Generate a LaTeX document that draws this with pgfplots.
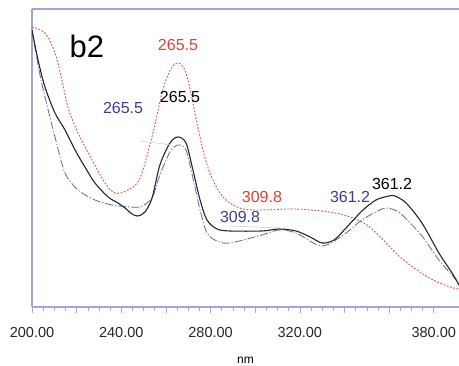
\documentclass[border=0pt]{standalone}
\usepackage{fontspec}
\setmainfont{Liberation Sans}
\usepackage{pgfplots}
\pgfplotsset{compat=1.18}
\definecolor{axisc}{HTML}{A3A3D6}
\definecolor{redc}{HTML}{E0402F}
\definecolor{redl}{HTML}{E25A40}
\definecolor{bluec}{HTML}{3A3F96}
\definecolor{bluel}{HTML}{6E72B4}
\begin{document}
\begin{tikzpicture}
\begin{axis}[
  scale only axis, width=427pt, height=298pt,
  xmin=200, xmax=391.3, ymin=0, ymax=298,
  axis x line*=bottom, axis y line*=left,
  axis line style={axisc, line width=1.2pt, -},
  ytick=\empty,
  xtick={200,220,...,380},
  xticklabels={200.00,,240.00,,280.00,,320.00,,,380.00},
  minor x tick num=3,
  tick align=outside,
  major tick length=6pt, minor tick length=4pt,
  every tick/.style={axisc, line width=0.6pt},
  /pgf/number format/assume math mode=true,
  xticklabel style={font=\fontsize{14.5}{16}\selectfont, text=black!85, yshift=-11pt},
  xlabel={nm}, xlabel style={font=\fontsize{12}{14}\selectfont, yshift=-12pt},
  clip=true,
]
\draw[axisc, line width=1.2pt] (axis cs:200,298) -- (axis cs:391.3,298);
% red dotted
\addplot[redl, line width=0.95pt, dash pattern=on 1.8pt off 1.6pt, smooth, tension=0.55] coordinates {
(200,280) (205.8,274) (210.3,254) (213.4,227) (216.1,200) (220.6,174) (226.9,147)
(232.7,124) (237.2,114) (243.0,117) (248.4,129) (254.2,174) (258.7,218) (262.2,238)
(265.4,244) (268.5,237) (271.2,214) (273.9,184) (276.6,157) (279.7,134) (284.2,114)
(288.7,104) (294.5,98) (302.2,97) (318.3,98) (333.1,95) (342.5,90) (350.1,82)
(357.3,67) (364.9,50) (372.5,37) (379.7,27) (387.3,20) (391.3,18)};
% blue dash-dot
\addplot[bluel, line width=0.9pt, dash pattern=on 8pt off 2pt on 1.2pt off 2pt, smooth, tension=0.5] coordinates {
(200,276) (203.6,232) (206.7,202) (210.3,170) (214.8,134) (220.6,117) (228.2,107)
(235.8,102) (243.9,100) (248.4,100) (251.5,104) (254.2,111) (257.3,132) (261.8,155)
(265.4,162) (269.0,157) (272.1,129) (275.3,97) (278.4,74) (282.9,66) (288.7,64)
(303.0,72) (310.7,77) (318.3,74) (330.0,61) (340.7,74) (347.8,87) (356.8,98)
(361.3,98) (365.8,92) (374.7,71) (382.3,47) (390.0,27) (391.3,22)};
% black solid
\addplot[black!85, line width=1.1pt, smooth, tension=0.5] coordinates {
(200,277) (202.7,247) (205.8,220) (210.3,194) (214.8,177) (219.3,157) (223.7,140)
(228.2,124) (234.1,110) (238.5,104) (241.7,99) (244.8,93) (247.5,91) (250.6,95)
(253.8,109) (257.3,142) (261.8,164) (265.4,170) (269.0,164) (272.1,137) (275.3,107)
(278.4,87) (282.9,78) (288.7,76) (303.0,76) (310.7,78) (318.3,76) (324.6,70)
(330.0,64) (335.3,67) (340.7,79) (347.8,96) (354.1,107) (359.9,111) (362.6,111)
(367.6,104) (374.7,84) (382.3,54) (388.2,34) (391.3,22)};
% leader lines
\draw[gray!45, line width=0.5pt] (axis cs:248.4,166) -- (axis cs:262.7,162);
\draw[gray!45, line width=0.5pt] (axis cs:288.3,81) -- (axis cs:310.7,79);
% labels
\node[font=\fontsize{31}{34}\selectfont] at (axis cs:224.6,261) {b2};
\node[font=\fontsize{16}{18}\selectfont, text=redc] at (axis cs:265.4,262) {265.5};
\node[font=\fontsize{16}{18}\selectfont, text=black] at (axis cs:266.3,210) {265.5};
\node[font=\fontsize{16}{18}\selectfont, text=bluec] at (axis cs:240.8,199) {265.5};
\node[font=\fontsize{16}{18}\selectfont, text=bluec] at (axis cs:293.2,90) {309.8};
\node[font=\fontsize{16}{18}\selectfont, text=redc] at (axis cs:303.0,110) {309.8};
\node[font=\fontsize{16}{18}\selectfont, text=bluec] at (axis cs:342.5,110) {361.2};
\node[font=\fontsize{16}{18}\selectfont, text=black] at (axis cs:361.3,123) {361.2};
\end{axis}
\pgfresetboundingbox
\path[use as bounding box] (-32pt,-59pt) rectangle (427pt,307pt);
\end{tikzpicture}
\end{document}
